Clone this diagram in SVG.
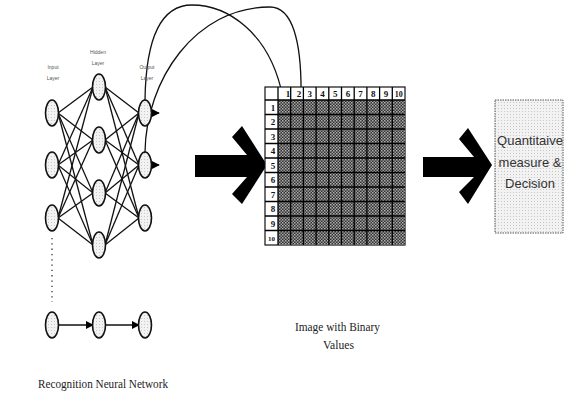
<svg xmlns="http://www.w3.org/2000/svg" width="565" height="398" viewBox="0 0 565 398">
<defs>
<pattern id="chk" width="3" height="3" patternUnits="userSpaceOnUse">
<rect width="3" height="3" fill="#333"/>
<rect width="1.5" height="1.5" fill="#b0b0b0"/>
<rect x="1.5" y="1.5" width="1.5" height="1.5" fill="#999"/>
</pattern>
<pattern id="dots" width="3" height="3" patternUnits="userSpaceOnUse">
<rect width="3" height="3" fill="#f2f2f2"/>
<rect width="1" height="1" fill="#c8c8c8"/>
</pattern>
<marker id="ah" viewBox="0 0 10 10" refX="9" refY="5" markerWidth="7" markerHeight="7" markerUnits="userSpaceOnUse" orient="auto">
<path d="M0,0 L10,5 L0,10 Z" fill="#000"/>
</marker>
<marker id="ahs" viewBox="0 0 10 10" refX="9" refY="5" markerWidth="8" markerHeight="8" markerUnits="userSpaceOnUse" orient="auto">
<path d="M0,0 L10,5 L0,10 Z" fill="#000"/>
</marker>
</defs>
<style>
.n{fill:url(#dots);stroke:#111;stroke-width:1.6}
.w{stroke:#111;stroke-width:1.3;fill:none}
.lbl{font-family:"Liberation Sans",Arial,sans-serif;font-size:5px;fill:#555;text-anchor:middle}
.ser{font-family:"Liberation Serif","Times New Roman",serif;fill:#222}
.num{font-family:"Liberation Serif",serif;font-size:9px;font-weight:bold;fill:#111;text-anchor:middle}
.box{font-family:"Liberation Sans",Arial,sans-serif;font-size:13px;fill:#333;text-anchor:middle}
</style>
<rect width="565" height="398" fill="#fff"/>

<g id="connectors">
<g class="w">
<line x1="58" y1="113" x2="93" y2="87"/><line x1="58" y1="113" x2="93" y2="140"/><line x1="58" y1="113" x2="93" y2="193"/><line x1="58" y1="113" x2="93" y2="245"/>
<line x1="58" y1="165" x2="93" y2="87"/><line x1="58" y1="165" x2="93" y2="140"/><line x1="58" y1="165" x2="93" y2="193"/><line x1="58" y1="165" x2="93" y2="245"/>
<line x1="58" y1="218" x2="93" y2="87"/><line x1="58" y1="218" x2="93" y2="140"/><line x1="58" y1="218" x2="93" y2="193"/><line x1="58" y1="218" x2="93" y2="245"/>
<line x1="105" y1="87" x2="139" y2="113"/><line x1="105" y1="87" x2="139" y2="165"/><line x1="105" y1="87" x2="139" y2="218"/>
<line x1="105" y1="140" x2="139" y2="113"/><line x1="105" y1="140" x2="139" y2="165"/><line x1="105" y1="140" x2="139" y2="218"/>
<line x1="105" y1="193" x2="139" y2="113"/><line x1="105" y1="193" x2="139" y2="165"/><line x1="105" y1="193" x2="139" y2="218"/>
<line x1="105" y1="245" x2="139" y2="113"/><line x1="105" y1="245" x2="139" y2="165"/><line x1="105" y1="245" x2="139" y2="218"/>
</g>
<line x1="151" y1="113" x2="159" y2="113" class="w" marker-end="url(#ahs)"/>
<line x1="151" y1="165" x2="159" y2="165" class="w" marker-end="url(#ahs)"/>
<line x1="52" y1="238" x2="52" y2="302" stroke="#333" stroke-width="1.3" stroke-dasharray="1.3,4"/>
<line x1="59" y1="325" x2="93" y2="325" class="w" marker-end="url(#ahs)"/>
<line x1="106" y1="325" x2="139" y2="325" class="w" marker-end="url(#ahs)"/>
<path d="M145,100 C146,30 165,5 192,5 C225,5 270,30 283,98" class="w" marker-end="url(#ah)"/>
<path d="M145,152 C146,80 195,7 270,7 C292,7 302,40 301,98" class="w" marker-end="url(#ah)"/>
</g>

<g id="input-layer">
<ellipse cx="52" cy="113" rx="6.5" ry="13" class="n"/>
<ellipse cx="52" cy="165" rx="6.5" ry="13" class="n"/>
<ellipse cx="52" cy="218" rx="6.5" ry="13" class="n"/>
<text x="53" y="69" class="lbl">Input</text><text x="53" y="80" class="lbl">Layer</text>
</g>
<g id="hidden-layer">
<ellipse cx="99" cy="87" rx="6.5" ry="13" class="n"/>
<ellipse cx="99" cy="140" rx="6.5" ry="13" class="n"/>
<ellipse cx="99" cy="193" rx="6.5" ry="13" class="n"/>
<ellipse cx="99" cy="245" rx="6.5" ry="13" class="n"/>
<text x="98" y="54" class="lbl">Hidden</text><text x="98" y="65" class="lbl">Layer</text>
</g>
<g id="output-layer">
<ellipse cx="145" cy="113" rx="6.5" ry="13" class="n"/>
<ellipse cx="145" cy="165" rx="6.5" ry="13" class="n"/>
<ellipse cx="145" cy="218" rx="6.5" ry="13" class="n"/>
<text x="147" y="69" class="lbl">Output</text><text x="147" y="80" class="lbl">Layer</text>
</g>
<g id="bottom-row">
<ellipse cx="52" cy="325" rx="6.5" ry="13" class="n"/>
<ellipse cx="99" cy="325" rx="6.5" ry="13" class="n"/>
<ellipse cx="145" cy="325" rx="6.5" ry="13" class="n"/>
</g>
<g id="network-label">
<text x="38" y="388" class="ser" font-size="13" textLength="130" lengthAdjust="spacingAndGlyphs">Recognition Neural Network</text>
</g>

<g id="arrow1">
<path d="M195,155 H247 L232,137 L242,126 L267,165 L242,204 L232,194 L247,177 H195 Z" fill="#000"/>
</g>

<g id="grid">
<rect x="265" y="87" width="140" height="158" fill="#fff" stroke="#111" stroke-width="1.2"/>
<rect x="278" y="100" width="127" height="145" fill="url(#chk)"/>
<g stroke="#000" stroke-width="1.3">
<line x1="265" y1="100" x2="405" y2="100"/>
<line x1="278" y1="87" x2="278" y2="245"/>
<line x1="290.7" y1="87" x2="290.7" y2="245"/><line x1="303.4" y1="87" x2="303.4" y2="245"/><line x1="316.1" y1="87" x2="316.1" y2="245"/><line x1="328.8" y1="87" x2="328.8" y2="245"/><line x1="341.5" y1="87" x2="341.5" y2="245"/><line x1="354.2" y1="87" x2="354.2" y2="245"/><line x1="366.9" y1="87" x2="366.9" y2="245"/><line x1="379.6" y1="87" x2="379.6" y2="245"/><line x1="392.3" y1="87" x2="392.3" y2="245"/>
<line x1="265" y1="114.5" x2="405" y2="114.5"/><line x1="265" y1="129" x2="405" y2="129"/><line x1="265" y1="143.5" x2="405" y2="143.5"/><line x1="265" y1="158" x2="405" y2="158"/><line x1="265" y1="172.5" x2="405" y2="172.5"/><line x1="265" y1="187" x2="405" y2="187"/><line x1="265" y1="201.5" x2="405" y2="201.5"/><line x1="265" y1="216" x2="405" y2="216"/><line x1="265" y1="230.5" x2="405" y2="230.5"/>
</g>
<g class="num">
<text x="288" y="97">1</text><text x="299" y="97">2</text><text x="309.8" y="97">3</text><text x="322.5" y="97">4</text><text x="335.2" y="97">5</text><text x="347.9" y="97">6</text><text x="360.6" y="97">7</text><text x="373.3" y="97">8</text><text x="386" y="97">9</text><text x="398.7" y="97" font-size="8">10</text>
</g>
<g class="num" font-size="8">
<text x="273" y="110.5">1</text><text x="273" y="125">2</text><text x="273" y="139.5">3</text><text x="273" y="154">4</text><text x="273" y="168.5">5</text><text x="273" y="183">6</text><text x="273" y="197.5">7</text><text x="273" y="212">8</text><text x="273" y="226.5">9</text><text x="271.5" y="241" font-size="7">10</text>
</g>
</g>
<g id="grid-label">
<text x="295" y="331" class="ser" font-size="13" textLength="85" lengthAdjust="spacingAndGlyphs">Image with Binary</text>
<text x="323" y="349" class="ser" font-size="13" textLength="31" lengthAdjust="spacingAndGlyphs">Values</text>
</g>

<g id="arrow2">
<path d="M423,157 H474 L459,139 L468,128 L492,165 L468,204 L459,192 L474,177 H423 Z" fill="#000"/>
</g>

<g id="decision">
<rect x="495" y="100" width="68" height="133" fill="url(#dots)" stroke="#555" stroke-width="1" stroke-dasharray="1.5,1"/>
<text x="530" y="145" class="box">Quantitaive</text>
<text x="530" y="167" class="box">measure &amp;</text>
<text x="530" y="188" class="box">Decision</text>
</g>
</svg>
